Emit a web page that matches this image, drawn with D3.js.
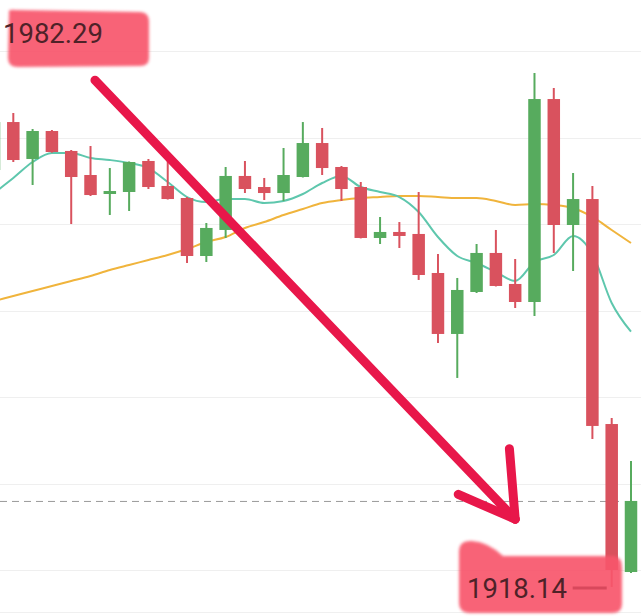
<!DOCTYPE html>
<html lang="en">
<head>
  <meta charset="UTF-8">
  <title>Candles</title>
  <script src="https://d3js.org/d3.v7.min.js"></script>
  <style>
    body { margin: 0; background: #fff; font-family: Roboto, "Noto Sans", sans-serif; }
    svg { display: block; background: #fff; }
    .grid line { stroke: #efefef; stroke-width: 1.2; }
    .last-price { stroke: #9a9a9a; stroke-dasharray: 7 5; stroke-width: 1; }
    .ma { fill: none; stroke-width: 2; }
    .mark-text { font-size: 27.5px; fill: #4e2228; }
  </style>
</head>
<body>
<svg width="641" height="616"></svg>
<script>
  const width = 641;
  const height = 616;

  // OHLC per candle (oldest first)
  const open  = [1970.18, 1976.17, 1971.56, 1975.05, 1972.56, 1969.56, 1967.19, 1967.44, 1971.31, 1968.19,
                 1966.69, 1959.45, 1962.70, 1969.44, 1968.06, 1967.31, 1969.31, 1973.55, 1970.56, 1968.06,
                 1961.70, 1962.45, 1962.20, 1957.33, 1949.72, 1954.96, 1959.83, 1955.96, 1953.71, 1979.04,
                 1963.32, 1966.56, 1938.48, 1920.01];
  const high  = [1976.42, 1977.30, 1975.30, 1975.18, 1972.68, 1973.18, 1970.43, 1971.25, 1971.56, 1971.68,
                 1966.81, 1963.57, 1970.56, 1971.31, 1969.19, 1972.93, 1976.17, 1975.43, 1970.68, 1968.69,
                 1964.32, 1963.69, 1967.44, 1959.70, 1956.71, 1960.95, 1962.70, 1959.08, 1982.29, 1980.42,
                 1969.81, 1968.19, 1939.23, 1933.87];
  const low   = [1969.19, 1971.18, 1968.31, 1972.35, 1963.44, 1966.94, 1964.57, 1965.07, 1967.81, 1966.50,
                 1958.58, 1958.70, 1961.70, 1967.31, 1966.44, 1966.32, 1969.25, 1969.56, 1966.32, 1961.65,
                 1960.95, 1960.45, 1956.46, 1948.59, 1944.23, 1954.83, 1955.65, 1952.96, 1951.96, 1959.83,
                 1957.58, 1936.61, 1918.14, 1919.89];
  const close = [1976.17, 1971.43, 1975.05, 1972.43, 1969.31, 1967.06, 1967.56, 1971.18, 1968.06, 1966.56,
                 1959.45, 1962.95, 1969.44, 1967.81, 1967.31, 1969.56, 1973.55, 1970.43, 1967.81, 1961.70,
                 1962.45, 1961.95, 1957.08, 1949.72, 1955.21, 1959.83, 1955.71, 1953.71, 1979.04, 1963.32,
                 1966.56, 1938.24, 1920.26, 1928.88];

  // moving averages
  const maShort = [1967.31, 1969.19, 1971.18, 1972.31, 1972.31, 1971.68, 1971.43, 1971.06, 1970.43, 1968.69,
                   1966.81, 1966.19, 1966.56, 1966.56, 1966.07, 1966.32, 1967.19, 1968.56, 1969.44, 1968.06,
                   1967.44, 1966.81, 1964.94, 1961.82, 1959.45, 1958.58, 1957.45, 1956.33, 1958.70, 1959.58,
                   1961.95, 1959.70, 1953.59, 1950.00];
  const maLong  = [1953.84, 1954.46, 1955.08, 1955.71, 1956.33, 1956.96, 1957.70, 1958.33, 1958.95, 1959.58,
                   1960.32, 1961.20, 1961.82, 1962.95, 1963.69, 1964.57, 1965.32, 1966.07, 1966.44, 1966.69,
                   1966.81, 1966.94, 1966.94, 1966.81, 1966.69, 1966.69, 1966.32, 1965.82, 1965.94, 1965.82,
                   1965.44, 1964.32, 1962.70, 1961.07];

  // horizontal grid levels
  const gridLevels = [1985.0, 1974.2, 1963.4, 1952.6, 1941.8, 1931.0, 1920.2];

  // hand drawn arrow, in (candle index, price)
  const arrowLine = [[5.23, 1981.4], [27.0, 1926.6]];
  const arrowHeadLeft = [[24.05, 1929.7], [27.0, 1926.6]];
  const arrowHeadRight = [[26.7, 1935.4], [27.0, 1926.6]];

  const candles = open.map((o, i) => ({ i, o, h: high[i], l: low[i], c: close[i] }));

  const x = d3.scaleLinear().domain([0, candles.length - 1]).range([-6, 631]);
  const y = d3.scaleLinear().domain([1918.14, 1982.29]).range([587, 73]);

  const svg = d3.select("svg");

  // grid
  svg.append("g").attr("class", "grid")
    .selectAll("line")
    .data(gridLevels)
    .join("line")
    .attr("x1", 0).attr("x2", width)
    .attr("y1", d => Math.round(y(d)) + 0.5)
    .attr("y2", d => Math.round(y(d)) + 0.5);

  svg.append("line")
    .attr("x1", 0).attr("x2", width)
    .attr("y1", 612.5).attr("y2", 612.5)
    .attr("stroke", "#f0f0f0").attr("stroke-width", 1.2);

  // last price line
  const last = close[close.length - 1];
  svg.append("line")
    .attr("class", "last-price")
    .attr("x1", 0).attr("x2", x(candles.length - 1) - 8)
    .attr("y1", y(last) + 0.5).attr("y2", y(last) + 0.5);

  // moving averages
  const line = d3.line()
    .x((d, i) => x(i))
    .y(d => y(d))
    .curve(d3.curveMonotoneX);

  svg.append("path").datum(maLong).attr("class", "ma")
    .attr("stroke", "#f0b43c").attr("d", line);
  svg.append("path").datum(maShort).attr("class", "ma")
    .attr("stroke", "#5ec7ad").attr("d", line);

  // candles
  const red = "#d9525e";
  const green = "#57ab5e";
  const bodyW = 12.5;
  const g = svg.append("g")
    .selectAll("g")
    .data(candles)
    .join("g")
    .attr("fill", d => d.c >= d.o ? green : red)
    .attr("stroke", d => d.c >= d.o ? green : red);

  g.append("line")
    .attr("x1", d => x(d.i)).attr("x2", d => x(d.i))
    .attr("y1", d => y(d.h)).attr("y2", d => y(d.l))
    .attr("stroke-width", 2);

  g.append("rect")
    .attr("stroke", "none")
    .attr("x", d => x(d.i) - bodyW / 2)
    .attr("width", bodyW)
    .attr("y", d => y(Math.max(d.o, d.c)))
    .attr("height", d => Math.max(2, Math.abs(y(d.o) - y(d.c))));

  // arrow annotation
  const arrow = d3.line().x(d => x(d[0])).y(d => y(d[1]));
  [arrowLine, arrowHeadLeft, arrowHeadRight].forEach(seg => {
    svg.append("path")
      .attr("d", arrow(seg))
      .attr("fill", "none")
      .attr("stroke", "#e8174a")
      .attr("stroke-width", 9)
      .attr("stroke-linecap", "round");
  });

  // highlighter marks
  const defs = svg.append("defs");
  defs.append("filter").attr("id", "soft")
    .append("feGaussianBlur").attr("stdDeviation", 1.8);

  const maxHigh = d3.max(high);
  const minLow = d3.min(low);
  const minIdx = low.indexOf(minLow);

  svg.append("path")
    .attr("d", "M9,12 Q8,9 16,10 L140,12 Q149,12 149,22 L149,58 Q149,66 140,66 L18,67 Q8,67 8,58 Z")
    .attr("fill", "#f8566c")
    .attr("opacity", 0.92)
    .attr("filter", "url(#soft)");

  svg.append("text")
    .attr("class", "mark-text")
    .attr("x", 3).attr("y", 43)
    .text(maxHigh.toFixed(2));

  svg.append("path")
    .attr("d", "M459,552 Q459,540 472,541 Q488,542 503,556 L614,556 Q622,557 622,568 L622,604 Q622,613 612,613 L470,613 Q459,613 459,602 Z")
    .attr("fill", "#f8566c")
    .attr("opacity", 0.92)
    .attr("filter", "url(#soft)");

  svg.append("line")
    .attr("x1", x(minIdx) - 39).attr("x2", x(minIdx) - 5)
    .attr("y1", y(minLow) + 1).attr("y2", y(minLow) + 1)
    .attr("stroke", "#d8485c").attr("stroke-width", 3);

  svg.append("text")
    .attr("class", "mark-text")
    .attr("x", 467).attr("y", 598)
    .text(minLow.toFixed(2));
</script>
</body>
</html>
